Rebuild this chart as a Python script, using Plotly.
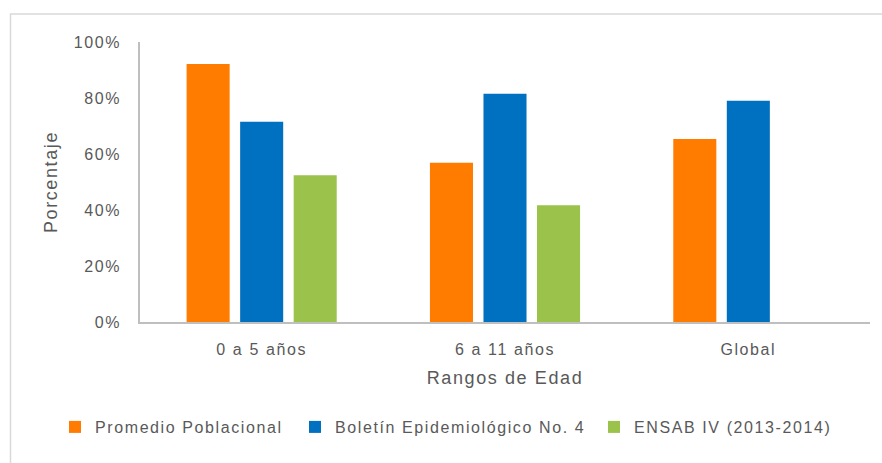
import plotly.graph_objects as go

# Age ranges on the category axis
rangos = ["0 a 5 años", "6 a 11 años", "Global"]

# Percentage per source
promedio_poblacional = [92.1, 56.9, 65.4]
boletin_epidemiologico = [71.5, 81.5, 79.0]
ensab_iv = [52.4, 41.7, None]

series_names = ["Promedio Poblacional", "Boletín Epidemiológico No. 4", "ENSAB IV (2013-2014)"]
y_ticks = [0, 20, 40, 60, 80, 100]
y_tick_labels = ["0%", "20%", "40%", "60%", "80%", "100%"]

COLORS = ["#FF7C00", "#0070C0", "#9BC24A"]
TEXT = "#595959"
AXIS = "#BFBFBF"
FONT = "Liberation Sans, Arial, sans-serif"

W, H = 882, 463
L, R, T, B = 140, 12, 42, 141
PW, PH = W - L - R, H - T - B


def px_x(x):
    return (x - L) / PW


def px_y(y):
    return (H - B - y) / PH


fig = go.Figure()
legend_ids = ["legend", "legend2", "legend3"]
for name, vals, color, lg in zip(series_names,
                                 [promedio_poblacional, boletin_epidemiologico, ensab_iv],
                                 COLORS, legend_ids):
    fig.add_trace(go.Bar(x=rangos, y=vals, name=name, marker_color=color,
                         marker_line_width=0, legend=lg))

legend_common = dict(orientation="h", xanchor="left", yanchor="top",
                     y=px_y(410), bgcolor="rgba(0,0,0,0)", itemwidth=30,
                     entrywidth=270, entrywidthmode="pixels",
                     font=dict(family=FONT, size=16, color=TEXT))

fig.update_layout(
    width=W, height=H,
    margin=dict(l=L, r=R, t=T, b=B, autoexpand=False),
    paper_bgcolor="white", plot_bgcolor="white",
    barmode="group", bargap=0.34, bargroupgap=0.196,
    font=dict(family=FONT, size=16, color=TEXT),
    showlegend=True,
    legend=dict(legend_common, x=px_x(55), visible=True),
    legend2=dict(legend_common, x=px_x(295), visible=True),
    legend3=dict(legend_common, x=px_x(594), visible=True),
    xaxis=dict(
        showline=True, linecolor=AXIS, linewidth=1.5,
        showgrid=False, ticks="", ticklabelstandoff=12,
        tickfont=dict(family=FONT, size=16, color=TEXT),
        title=dict(text="Rangos de Edad", standoff=14,
                   font=dict(family=FONT, size=18, color=TEXT)),
        automargin=False,
    ),
    yaxis=dict(
        range=[0, 100], tickmode="array", tickvals=y_ticks, ticktext=y_tick_labels,
        showline=True, linecolor=AXIS, linewidth=1.5,
        showgrid=False, zeroline=False, ticks="", ticklabelstandoff=14,
        tickfont=dict(family=FONT, size=16, color=TEXT),
        title=dict(text="Porcentaje", standoff=18,
                   font=dict(family=FONT, size=18, color=TEXT)),
        automargin=False,
    ),
    shapes=[dict(type="rect", xref="paper", yref="paper",
                 x0=px_x(10.5), x1=px_x(W + 20), y0=px_y(H + 20), y1=px_y(14),
                 line=dict(color="#D9D9D9", width=1.5), fillcolor="rgba(0,0,0,0)",
                 layer="below")],
)

# Slightly open tracking on chart text
post = ("var s=document.createElement('style');"
        "s.textContent='.main-svg text{letter-spacing:1.6px}';"
        "document.head.appendChild(s);")
fig.write_html("out.html", post_script=post)
